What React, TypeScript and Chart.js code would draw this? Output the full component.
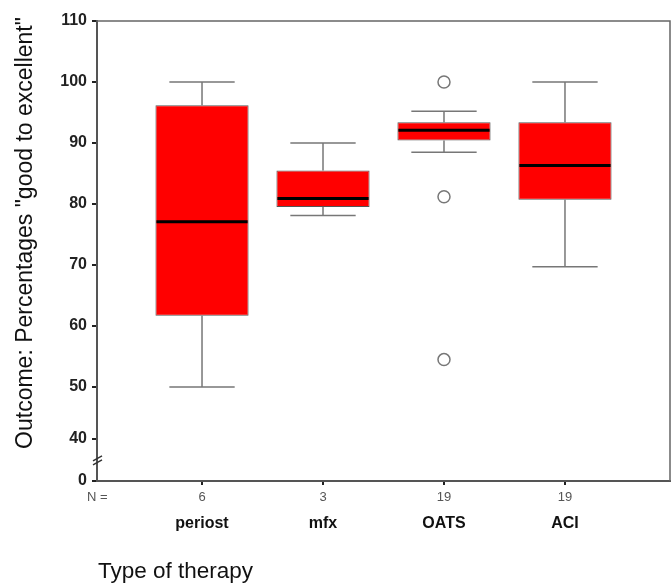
import React, { useEffect, useRef } from 'react';
import { Chart, registerables, LinearScale } from 'chart.js';

// ---------- data ----------
const categories = ['periost', 'mfx', 'OATS', 'ACI'];
const counts = [6, 3, 19, 19];
const whiskerLow = [50, 78.1, 88.5, 69.7];
const q1 = [61.7, 79.5, 90.4, 80.7];
const median = [77.1, 80.9, 92.1, 86.3];
const q3 = [96.2, 85.5, 93.4, 93.4];
const whiskerHigh = [100, 90, 95.2, 100];
const outlierCategory = [3, 3, 3]; // 1-based: OATS
const outlierValues = [100, 81.2, 54.5];
const yTicks = [0, 40, 50, 60, 70, 80, 90, 100, 110];

// ---------- broken y axis (0 … 40 … 50 compressed) ----------
function warp(v: number): number {
  if (v >= 50) return v;
  if (v >= 40) return 41.5 + (v - 40) * 0.85;
  return 34.6 + v * (6.9 / 40);
}
function unwarp(t: number): number {
  if (t >= 50) return t;
  if (t >= 41.5) return 40 + (t - 41.5) / 0.85;
  return (t - 34.6) / (6.9 / 40);
}

class BrokenLinearScale extends LinearScale {
  static id = 'brokenLinear';
  static defaults = LinearScale.defaults;
  getPixelForValue(value: any) {
    if (value === null || value === undefined || isNaN(value)) return NaN;
    const a = warp(this.min);
    const b = warp(this.max);
    return this.getPixelForDecimal((warp(value) - a) / (b - a));
  }
  getValueForPixel(pixel: number) {
    const a = warp(this.min);
    const b = warp(this.max);
    return unwarp(a + this.getDecimalForPixel(pixel) * (b - a));
  }
}

Chart.register(...registerables, BrokenLinearScale as any);

const BOX_HALF = 0.385;
const CAP_HALF = 0.27;
const FONT = '"Liberation Sans", Arial, sans-serif';

const boxPlugin = {
  id: 'boxExtras',
  beforeDraw(chart: any) {
    const { ctx } = chart;
    ctx.save();
    ctx.fillStyle = '#ffffff';
    ctx.fillRect(0, 0, chart.width, chart.height);
    ctx.restore();
  },
  beforeDatasetsDraw(chart: any) {
    const { ctx, scales } = chart;
    const x = scales.x, y = scales.y;
    ctx.save();
    ctx.strokeStyle = '#777777';
    ctx.lineWidth = 1.5;
    categories.forEach((_, i) => {
      const c = i + 1;
      const xc = x.getPixelForValue(c);
      const xl = x.getPixelForValue(c - CAP_HALF);
      const xr = x.getPixelForValue(c + CAP_HALF);
      ctx.beginPath();
      ctx.moveTo(xc, y.getPixelForValue(q3[i]));
      ctx.lineTo(xc, y.getPixelForValue(whiskerHigh[i]));
      ctx.moveTo(xc, y.getPixelForValue(q1[i]));
      ctx.lineTo(xc, y.getPixelForValue(whiskerLow[i]));
      ctx.moveTo(xl, y.getPixelForValue(whiskerHigh[i]));
      ctx.lineTo(xr, y.getPixelForValue(whiskerHigh[i]));
      ctx.moveTo(xl, y.getPixelForValue(whiskerLow[i]));
      ctx.lineTo(xr, y.getPixelForValue(whiskerLow[i]));
      ctx.stroke();
    });
    ctx.restore();
  },
  afterDatasetsDraw(chart: any) {
    const { ctx, scales } = chart;
    const x = scales.x, y = scales.y;
    ctx.save();
    ctx.strokeStyle = '#000000';
    ctx.lineWidth = 3;
    categories.forEach((_, i) => {
      const c = i + 1;
      const yy = y.getPixelForValue(median[i]);
      ctx.beginPath();
      ctx.moveTo(x.getPixelForValue(c - BOX_HALF) + 1, yy);
      ctx.lineTo(x.getPixelForValue(c + BOX_HALF) - 1, yy);
      ctx.stroke();
    });
    ctx.restore();
  },
  afterDraw(chart: any) {
    const { ctx, chartArea, scales } = chart;
    const x = scales.x;
    ctx.save();
    // frame top & right
    ctx.strokeStyle = '#666666';
    ctx.lineWidth = 1.5;
    ctx.beginPath();
    ctx.moveTo(chartArea.left, chartArea.top);
    ctx.lineTo(chartArea.right, chartArea.top);
    ctx.lineTo(chartArea.right, chartArea.bottom);
    ctx.stroke();

    // axis break marks
    const yb = scales.y.getPixelForValue(20);
    ctx.strokeStyle = '#333333';
    ctx.lineWidth = 1.5;
    ctx.beginPath();
    ctx.moveTo(chartArea.left - 4, yb + 1);
    ctx.lineTo(chartArea.left + 5, yb - 4);
    ctx.moveTo(chartArea.left - 4, yb + 5);
    ctx.lineTo(chartArea.left + 5, yb);
    ctx.stroke();

    // N row
    ctx.fillStyle = '#555555';
    ctx.font = `13px ${FONT}`;
    ctx.textBaseline = 'middle';
    ctx.textAlign = 'left';
    ctx.fillText('N =', 87, chartArea.bottom + 16);
    ctx.textAlign = 'center';
    counts.forEach((n, i) => {
      ctx.fillText(String(n), x.getPixelForValue(i + 1), chartArea.bottom + 16);
    });

    // category labels
    ctx.fillStyle = '#111111';
    ctx.font = `bold 16px ${FONT}`;
    categories.forEach((c, i) => {
      ctx.fillText(c, x.getPixelForValue(i + 1), chartArea.bottom + 43);
    });

    // x title
    ctx.font = `22.5px ${FONT}`;
    ctx.textAlign = 'left';
    ctx.textBaseline = 'alphabetic';
    ctx.fillText('Type of therapy', 98, 578);

    // y title
    ctx.font = `23px ${FONT}`;
    ctx.translate(32, 233);
    ctx.rotate(-Math.PI / 2);
    ctx.textAlign = 'center';
    ctx.fillText('Outcome: Percentages "good to excellent"', 0, 0);
    ctx.restore();
  },
};

export default function App() {
  const ref = useRef<HTMLCanvasElement | null>(null);
  useEffect(() => {
    if (!ref.current) return;
    const chart = new Chart(ref.current, {
      type: 'bar',
      data: {
        datasets: [
          {
            type: 'bar',
            data: categories.map((_, i) => ({ x: i + 1, y: [q1[i], q3[i]] })) as any,
            backgroundColor: '#ff0000',
            borderColor: '#555555',
            borderWidth: 1,
            borderSkipped: false,
            categoryPercentage: 1,
            barPercentage: BOX_HALF * 2,
          } as any,
          {
            type: 'scatter',
            data: outlierValues.map((v, i) => ({ x: outlierCategory[i], y: v })) as any,
            pointRadius: 6,
            pointBackgroundColor: '#ffffff',
            pointBorderColor: '#777777',
            pointBorderWidth: 1.5,
          } as any,
        ],
      },
      options: {
        responsive: false,
        animation: false,
        events: [],
        layout: { autoPadding: false, padding: { left: 0, top: 21, right: 2, bottom: 0 } },
        plugins: { legend: { display: false }, tooltip: { enabled: false } },
        scales: {
          x: {
            type: 'linear',
            offset: false,
            min: 0.132,
            max: 4.868,
            afterBuildTicks: (s: any) => {
              s.ticks = categories.map((_, i) => ({ value: i + 1 }));
            },
            afterFit: (s: any) => {
              s.height = 106;
            },
            ticks: { display: false },
            grid: { offset: false, drawOnChartArea: false, drawTicks: true, tickLength: 4, color: '#222222', lineWidth: 2 },
            border: { color: '#555555', width: 2 },
          },
          y: {
            type: 'brokenLinear' as any,
            min: 0,
            max: 110,
            afterBuildTicks: (s: any) => {
              s.ticks = yTicks.map((v) => ({ value: v }));
            },
            afterFit: (s: any) => {
              s.width = 97;
            },
            ticks: {
              color: '#222222',
              padding: 5,
              font: { family: FONT, size: 16, weight: 'bold' },
              callback: (v: any) => String(v),
            },
            grid: { drawOnChartArea: false, drawTicks: true, tickLength: 5, color: '#222222', lineWidth: 2 },
            border: { color: '#555555', width: 2 },
          } as any,
        },
      },
      plugins: [boxPlugin],
    });
    return () => chart.destroy();
  }, []);
  return (
    <div style={{ position: 'absolute', left: 0, top: 0, width: 672, height: 587 }}>
      <canvas ref={ref} width={672} height={587} />
    </div>
  );
}
